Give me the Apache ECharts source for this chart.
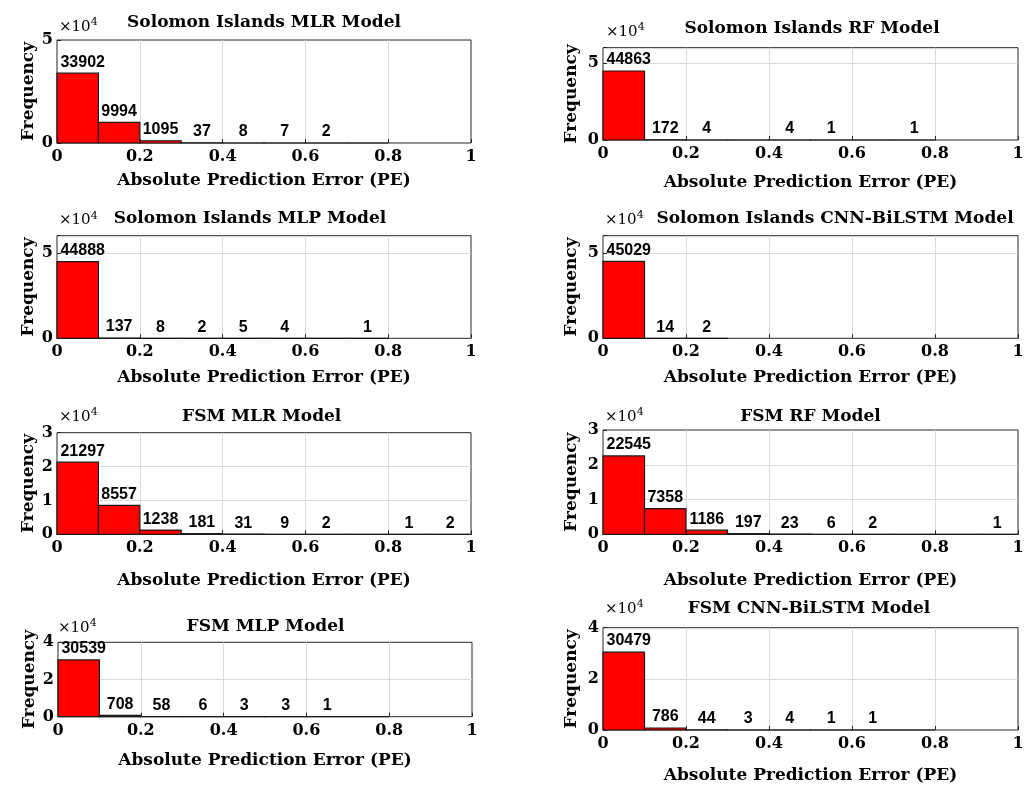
<!DOCTYPE html>
<html>
<head>
<meta charset="utf-8">
<script src="https://cdn.jsdelivr.net/npm/echarts@6/dist/echarts.min.js"></script>
<style>
html,body{margin:0;padding:0;background:#fff;}
#chart{width:1035px;height:785px;}
</style>
</head>
<body>
<div id="chart"></div>
<script>
// ---- data ----
const binEdges = [0, 0.1, 0.2, 0.3, 0.4, 0.5, 0.6, 0.7, 0.8, 0.9, 1.0];
const xTickValues = [0, 0.2, 0.4, 0.6, 0.8, 1];
const xTickLabels = ['0', '0.2', '0.4', '0.6', '0.8', '1'];

const titles = [
  'Solomon Islands MLR Model', 'Solomon Islands RF Model',
  'Solomon Islands MLP Model', 'Solomon Islands CNN-BiLSTM Model',
  'FSM MLR Model', 'FSM RF Model',
  'FSM MLP Model', 'FSM CNN-BiLSTM Model'
];
const siMLR  = [33902, 9994, 1095, 37, 8, 7, 2, 0];
const siRF   = [44863, 172, 4, 0, 4, 1, 0, 1];
const siMLP  = [44888, 137, 8, 2, 5, 4, 0, 1];
const siCNN  = [45029, 14, 2];
const fsmMLR = [21297, 8557, 1238, 181, 31, 9, 2, 0, 1, 2];
const fsmRF  = [22545, 7358, 1186, 197, 23, 6, 2, 0, 0, 1];
const fsmMLP = [30539, 708, 58, 6, 3, 3, 1, 0];
const fsmCNN = [30479, 786, 44, 3, 4, 1, 1, 0];
const allCounts = [siMLR, siRF, siMLP, siCNN, fsmMLR, fsmRF, fsmMLP, fsmCNN];
const yMaxes    = [50000, 60000, 60000, 60000, 30000, 30000, 40000, 40000];
const yIntervals= [50000, 50000, 50000, 50000, 10000, 10000, 20000, 20000];
const yScaleDiv = 10000;
const xAxisName = 'Absolute Prediction Error (PE)';
const yAxisName = 'Frequency';

// ---- layout (pixels) ----
const layout = [
  {left:57,  top:40,    width:414, height:103,   tx:264,   ty:22.7,  ex:59,  ey:26.7,  xng:29, ynf:20},
  {left:603, top:47.7,  width:415, height:92.3,  tx:812,   ty:29,    ex:606, ey:31.7,  xng:34, ynf:23},
  {left:57,  top:235.7, width:414, height:102.6, tx:250,   ty:218.3, ex:59,  ey:220.5, xng:31, ynf:20},
  {left:603, top:235.7, width:415, height:102.6, tx:835,   ty:219,   ex:605, ey:219.7, xng:31, ynf:23},
  {left:57,  top:432.7, width:414, height:101.6, tx:261.7, ty:416.7, ex:59,  ey:416.7, xng:38, ynf:20},
  {left:603, top:430,   width:415, height:104.3, tx:810.5, ty:416.3, ex:605, ey:417,   xng:38, ynf:23},
  {left:58,  top:642.3, width:414, height:74.4,  tx:265.5, ty:627,   ex:58,  ey:628,   xng:35.5, ynf:20},
  {left:603, top:627.7, width:415, height:102.3, tx:809,   ty:608.3, ex:605, ey:609,   xng:37, ynf:23}
];

const SERIF = '"DejaVu Serif", serif';
const SANS = '"Liberation Sans", Arial, sans-serif';
const DARK = '#262626';

const grids = [], xAxes = [], yAxes = [], series = [], graphics = [];

layout.forEach((L, i) => {
  grids.push({left:L.left, top:L.top, width:L.width, height:L.height, show:true,
    borderColor:DARK, borderWidth:1, backgroundColor:'#fff', containLabel:false});
  xAxes.push({
    type:'value', gridIndex:i, min:0, max:1, interval:0.2,
    name:xAxisName, nameLocation:'middle', nameGap:L.xng,
    nameTextStyle:{fontFamily:SERIF, fontWeight:'bold', fontSize:17, color:'#000'},
    axisLine:{show:false},
    axisTick:{show:true, inside:true, length:4, lineStyle:{color:DARK}},
    axisLabel:{margin:6, fontFamily:SERIF, fontWeight:'bold', fontSize:16, color:'#000',
      formatter:(v)=>{const k = xTickValues.findIndex(t=>Math.abs(t-v)<1e-9); return k>=0?xTickLabels[k]:'';}},
    splitLine:{show:true, showMinLine:false, showMaxLine:false, lineStyle:{color:'#d9d9d9', width:1}}
  });
  yAxes.push({
    type:'value', gridIndex:i, min:0, max:yMaxes[i], interval:yIntervals[i],
    name:yAxisName, nameLocation:'middle', nameRotate:90, nameGap:L.ynf,
    nameTextStyle:{fontFamily:SERIF, fontWeight:'bold', fontSize:17, color:'#000'},
    axisLine:{show:false},
    axisTick:{show:true, inside:true, length:4, lineStyle:{color:DARK}},
    axisLabel:{margin:4, fontFamily:SERIF, fontWeight:'bold', fontSize:16, color:'#000',
      formatter:(v)=> (v % yIntervals[i] === 0) ? String(v / yScaleDiv) : ''},
    splitLine:{show:true, showMinLine:false, showMaxLine:false, lineStyle:{color:'#d9d9d9', width:1}}
  });
  const counts = allCounts[i];
  const data = counts.map((c, k) => [binEdges[k], binEdges[k+1], c, k]);
  series.push({
    type:'custom', xAxisIndex:i, yAxisIndex:i, data:data,
    encode:{x:[0,1], y:2},
    renderItem:(params, api) => {
      const x0 = api.value(0), x1 = api.value(1), v = api.value(2), k = api.value(3);
      const pTop = api.coord([x0, v]);
      const pBot = api.coord([x1, 0]);
      const children = [{
        type:'rect',
        shape:{x:pTop[0], y:pTop[1], width:pBot[0]-pTop[0], height:pBot[1]-pTop[1]},
        style:{fill:'#ff0000', stroke:'#1a1a1a', lineWidth:1.2}
      }];
      if (v > 0) {
        children.push({
          type:'text',
          style:{text:String(v), x:(pTop[0]+pBot[0])/2 + (k===0?5:0), y:pTop[1]-3,
            align:'center', verticalAlign:'bottom',
            font:'bold 16px ' + SANS, fill:'#000'}
        });
      }
      return {type:'group', children};
    }
  });
  graphics.push({
    type:'text', x:L.tx, y:L.ty,
    style:{text:titles[i], align:'center', verticalAlign:'middle',
      font:'bold 17px ' + SERIF, fill:'#000'}
  });
  graphics.push({
    type:'text', x:L.ex, y:L.ey,
    style:{text:'×10{sup|4}', align:'left', verticalAlign:'middle',
      font:'15px ' + SERIF, fill:'#000',
      rich:{sup:{fontSize:11, fontFamily:SERIF, verticalAlign:'top', padding:[0,0,9,0]}}}
  });
});

const chart = echarts.init(document.getElementById('chart'), null, {renderer:'canvas'});
chart.setOption({
  animation:false,
  backgroundColor:'#fff',
  grid:grids, xAxis:xAxes, yAxis:yAxes, series:series,
  graphic:{elements:graphics}
});
</script>
</body>
</html>
